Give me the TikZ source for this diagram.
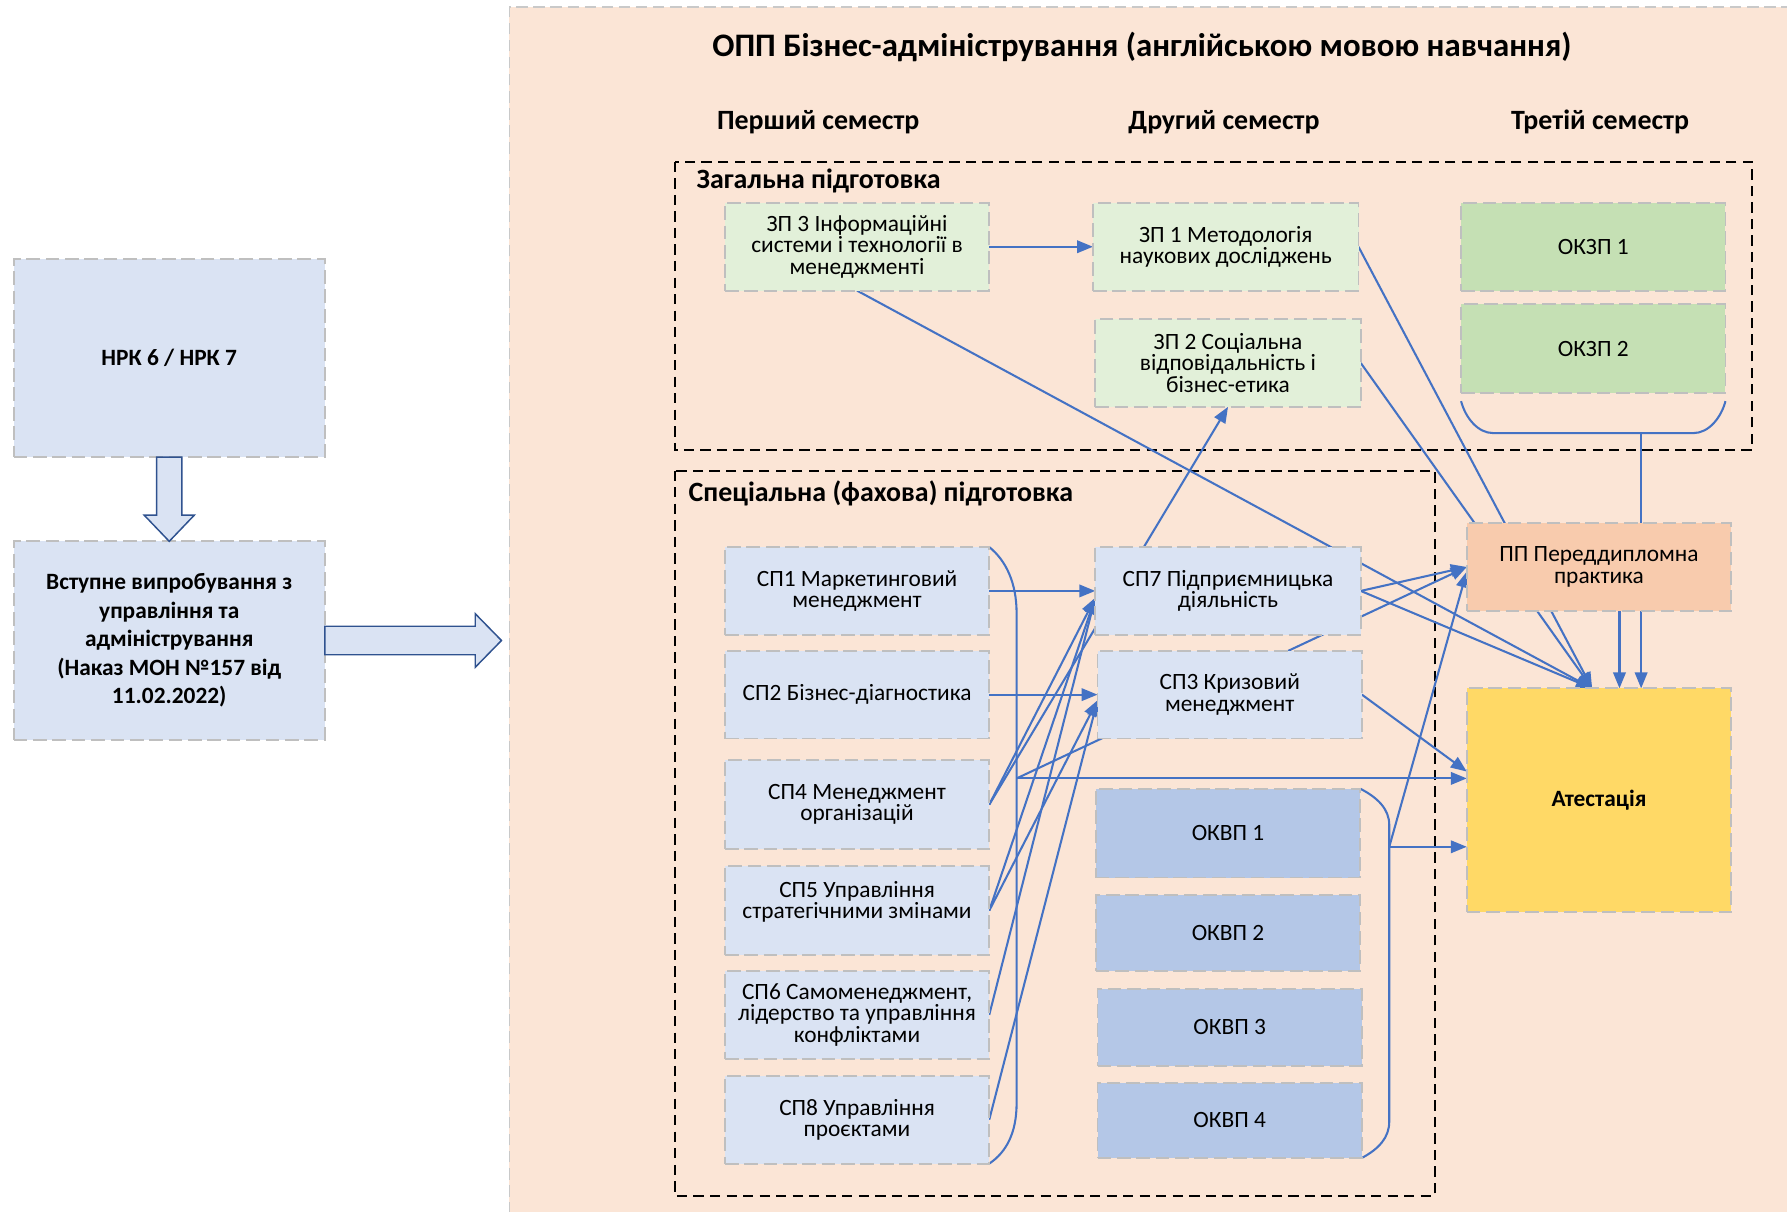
\documentclass[tikz,border=0pt]{standalone}
\usepackage{fontspec}
\setmainfont{Carlito}
\usetikzlibrary{arrows.meta}
\definecolor{panelpeach}{HTML}{FBE5D6}
\definecolor{panelline}{HTML}{C9C9C9}
\definecolor{spblue}{HTML}{DAE3F3}
\definecolor{zpgreen}{HTML}{E2F0D9}
\definecolor{okzpgreen}{HTML}{C5E0B4}
\definecolor{okvpblue}{HTML}{B4C7E7}
\definecolor{ppsalmon}{HTML}{F8CBAD}
\definecolor{attyellow}{HTML}{FFD966}
\definecolor{linkblue}{HTML}{4472C4}
\definecolor{arrowedge}{HTML}{2F528F}
\definecolor{edgegray}{HTML}{BFBFBF}
\pgfdeclarelayer{panel}
\pgfdeclarelayer{links}
\pgfsetlayers{panel,links,main}

\begin{document}
\begin{tikzpicture}[x=1pt,y=-1pt,
    box/.style={draw=edgegray,line width=1.6pt,dash pattern=on 12pt off 5pt,
      minimum width=232,minimum height=77,inner sep=2pt,outer sep=0pt,
      align=center,font=\fontsize{20.5pt}{18.7pt}\selectfont},
    spbox/.style={box,fill=spblue},
    zpbox/.style={box,fill=zpgreen},
    okzpbox/.style={box,fill=okzpgreen},
    okvpbox/.style={box,fill=okvpblue},
    leftbox/.style={box,fill=spblue,minimum width=273,minimum height=174,
      font=\bfseries\fontsize{20.5pt}{25pt}\selectfont},
    headtext/.style={font=\bfseries\fontsize{24.5pt}{29pt}\selectfont},
    plainlink/.style={draw=linkblue,line width=1.8pt},
    link/.style={plainlink,-{Triangle[length=14pt,width=11pt]}},
    groupframe/.style={draw=black,line width=1.8pt,dash pattern=on 9pt off 5.5pt},
    blockarrow/.style={fill=spblue,draw=arrowedge,line width=1.3pt,line join=miter}]
    \useasboundingbox (0,0) rectangle (1568,1063);

    \begin{pgfonlayer}{panel}
    \fill[panelpeach] (447,6) rectangle (1580,1080);
    \draw[panelline,line width=1.5pt,dash pattern=on 10pt off 5pt]
      (447,1080) -- (447,6) -- (1580,6);
    \draw[groupframe] (592,142) rectangle (1537,395);
    \draw[groupframe] (592,413) rectangle (1259,1049);
    \end{pgfonlayer}

    \node[leftbox] (nrk) at (148.5,314) {НРК 6 / НРК 7};
    \node[leftbox] (entry) at (148.5,562)
      {Вступне випробування з\\управління та\\адміністрування\\(Наказ МОН №157 від\\11.02.2022)};
    \draw[blockarrow] ([xshift=-11pt]nrk.south) -- ++(0,51) -- ++(-11,0) --
      (entry.north) -- ++(22,-23) -- ++(-11,0) -- ([xshift=11pt]nrk.south) -- cycle;
    \draw[blockarrow] ([yshift=12.5pt]entry.east) -- ++(132,0) -- ++(0,-11) --
      ++(23,23.5) -- ++(-23,23.5) -- ++(0,-11) -- ([yshift=-12.5pt]entry.east) -- cycle;

    \node[font=\bfseries\fontsize{28.8pt}{34pt}\selectfont] (title) at (1002,41)
      {ОПП Бізнес-адміністрування (англійською мовою навчання)};
    \node[headtext] (sem1) at (718,107) {Перший семестр};
    \node[headtext] (sem2) at (1074,107) {Другий семестр};
    \node[headtext] (sem3) at (1404,107) {Третій семестр};
    \node[headtext,anchor=west,inner sep=0pt] (genlabel) at (611,159) {Загальна підготовка};
    \node[headtext,anchor=west,inner sep=0pt] (speclabel) at (604,433) {Спеціальна (фахова) підготовка};

    \node[zpbox] (zp3) at (752,216.5) {ЗП 3 Інформаційні\\системи і технології в\\менеджменті};
    \node[zpbox,minimum width=233] (zp1) at (1075.5,216.5) {ЗП 1 Методологія\\наукових досліджень};
    \node[zpbox,minimum width=233] (zp2) at (1077.5,318.5) {ЗП 2 Соціальна\\відповідальність і\\бізнес-етика};
    \node[okzpbox] (okzp1) at (1398,216.5) {ОКЗП 1};
    \node[okzpbox,minimum height=78] (okzp2) at (1398,306) {ОКЗП 2};

    \node[spbox] (sp1) at (752,518.5) {СП1 Маркетинговий\\менеджмент};
    \node[spbox] (sp2) at (752,609.5) {СП2 Бізнес-діагностика};
    \node[spbox,minimum height=78] (sp4) at (752,706) {СП4 Менеджмент\\організацій};
    \node[spbox,minimum height=78] (sp5) at (752,799) {СП5 Управління\\стратегічними змінами\\\mbox{}};
    \node[spbox] (sp6) at (752,890.5) {СП6 Самоменеджмент,\\лідерство та управління\\конфліктами};
    \node[spbox] (sp8) at (752,982.5) {СП8 Управління\\проєктами};
    \node[spbox,minimum width=233] (sp7) at (1077.5,518.5) {СП7 Підприємницька\\діяльність};
    \node[spbox] (sp3) at (1079,609.5) {СП3 Кризовий\\менеджмент};

    \foreach \n/\x/\y/\h in {1/1077.5/731/78,2/1077.5/818.5/67,3/1079/901.5/67,4/1079/983/66}
      \node[okvpbox,minimum height=\h] (okvp\n) at (\x,\y) {ОКВП \n};

    \node[box,fill=ppsalmon] (pp) at (1403,497.5) {ПП Переддипломна\\практика};
    \node[box,fill=attyellow,minimum height=196,font=\bfseries\fontsize{20.5pt}{25pt}\selectfont]
      (att) at (1403,702) {Атестація};

    \coordinate (ljunc) at (892,683);
    \coordinate (rjunc) at (1219,743);
    \coordinate (okzpjunc) at (1440,380);

    \begin{pgfonlayer}{links}
    \draw[link] (zp3.east) -- (zp1.west);
    \draw[link] (zp3.south) -- ([xshift=-6pt]att.north);
    \draw[link] (zp1.east) -- ([xshift=-6pt]att.north);
    \draw[link] (zp2.east) -- ([xshift=-6pt]att.north);
    \draw[link] (sp7.east) -- ([xshift=-6pt]att.north);
    \draw[link] (sp7.east) -- (pp.west);
    \draw[link] (sp3.east) -- ([yshift=25pt]att.west);
    \draw[link] (sp1.east) -- (sp7.west);
    \draw[link] (sp2.east) -- (sp3.west);
    \draw[link] (sp4.east) -- (zp2.south);
    \foreach \src/\dst/\dy in {sp4/sp7/-6,sp5/sp7/-6,sp6/sp7/-6,sp5/sp3/-5,sp8/sp3/-5}
      \draw[link] (\src.east) -- ([yshift=\dy pt]\dst.west);

    \draw[plainlink] (sp1.north east) .. controls (883,492) and (892,512) .. (892,538) --
      (892,968) .. controls (892,994) and (883,1011) .. (sp8.south east);
    \draw[link] (ljunc) -- (ljunc -| att.west);
    \draw[link] (ljunc) -- (pp.west);

    \draw[plainlink] (okvp1.north east) .. controls (1209,700) and (1219,710) .. (1219,724) --
      (1219,984) .. controls (1219,998) and (1210,1008) .. (okvp4.south east);
    \draw[link] (rjunc) -- (rjunc -| att.west);
    \draw[link] (rjunc) -- ([yshift=-4pt]pp.west);

    \draw[plainlink] ([yshift=-7pt]okzp2.south west) .. controls (1286,367) and (1297,380) ..
      (1310,380) -- (1486,380) .. controls (1499,380) and (1510,367) .. ([yshift=-7pt]okzp2.south east);
    \draw[link] (okzpjunc) -- (okzpjunc |- att.north);
    \draw[link] ([xshift=18pt]pp.south) -- ([xshift=18pt]att.north);
    \end{pgfonlayer}
  \end{tikzpicture}
\end{document}
